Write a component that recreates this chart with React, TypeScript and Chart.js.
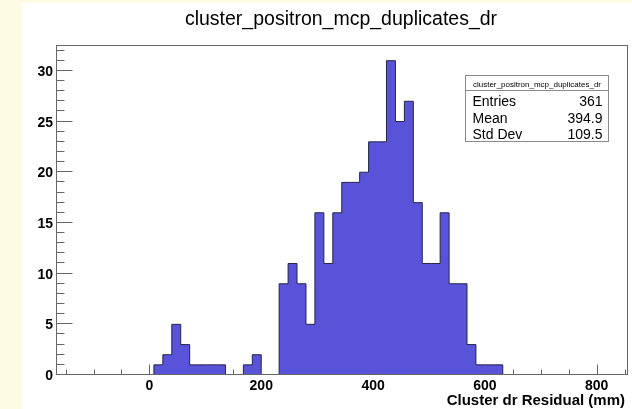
import React, { useEffect, useRef } from "react";
import { Chart, registerables } from "chart.js";

Chart.register(...registerables);

// ---------- data ----------
const TITLE = "cluster_positron_mcp_duplicates_dr";
const X_TITLE = "Cluster dr Residual (mm)";
const X_MIN = -168;
const X_MAX = 856;
const Y_MIN = 0;
const Y_MAX = 32.55;

// lower edges of the filled bins (bin width 16 mm), plus the upper edge of the last one
const binEdges = [
  8, 24, 40, 56, 72, 88, 104, 120, 136, 152, 168, 184, 200, 216, 232, 248, 264, 280, 296, 312,
  328, 344, 360, 376, 392, 408, 424, 440, 456, 472, 488, 504, 520, 536, 552, 568, 584, 600, 616, 632,
];
const binCounts = [
  1, 2, 5, 3, 1, 1, 1, 1, 0, 0, 1, 2, 0, 0, 9, 11, 9, 5, 16, 11,
  16, 19, 19, 20, 23, 23, 31, 25, 27, 17, 11, 11, 16, 9, 9, 3, 1, 1, 1,
];

const yMajorTicks = [0, 5, 10, 15, 20, 25, 30];
const xMajorTicks = [0, 200, 400, 600, 800];
const yMinorStep = 1;
const xMinorStep = 50;

const statLabels = ["Entries", "Mean", "Std Dev"];
const statValues = ["361", "394.9", "109.5"];

// ---------- styles ----------
const FONT = '"Liberation Sans", Arial, Helvetica, sans-serif';
const FILL = "#5853d9";
const LINE = "#25254a";
const AXIS = "#666666";
const PAGE_BG = "#fdfbe4";

const rootPlugin = {
  id: "rootStyle",
  beforeDraw(chart: any) {
    const ctx = chart.ctx;
    ctx.save();
    ctx.fillStyle = PAGE_BG;
    ctx.fillRect(0, 0, chart.width, chart.height);
    ctx.fillStyle = "#ffffff";
    ctx.fillRect(22, 3, chart.width - 22, chart.height - 3);
    ctx.restore();
  },
  afterDatasetsDraw(chart: any) {
    const ctx = chart.ctx;
    const area = chart.chartArea;
    const xs = chart.scales.x;
    const ys = chart.scales.y;
    ctx.save();

    // frame
    ctx.strokeStyle = AXIS;
    ctx.lineWidth = 1;
    const L = Math.round(area.left) + 0.5;
    const R = Math.round(area.right) - 0.5;
    const T = Math.round(area.top) + 0.5;
    const B = Math.round(area.bottom) - 0.5;
    ctx.strokeRect(L, T, R - L, B - T);

    // y ticks
    ctx.beginPath();
    for (let v = Y_MIN; v <= Y_MAX; v += yMinorStep) {
      const y = Math.round(ys.getPixelForValue(v)) - 0.5;
      const len = yMajorTicks.includes(v) ? 16 : 8;
      ctx.moveTo(L, y);
      ctx.lineTo(L + len, y);
    }
    // x ticks
    for (let v = Math.ceil(X_MIN / xMinorStep) * xMinorStep; v <= X_MAX; v += xMinorStep) {
      const x = Math.round(xs.getPixelForValue(v)) + 0.5;
      const len = xMajorTicks.includes(v) ? 10 : 5;
      ctx.moveTo(x, B);
      ctx.lineTo(x, B - len);
    }
    ctx.stroke();

    // tick labels
    ctx.fillStyle = "#000000";
    ctx.font = `bold 14px ${FONT}`;
    ctx.textAlign = "right";
    ctx.textBaseline = "alphabetic";
    yMajorTicks.forEach((v) => {
      ctx.fillText(String(v), 53, ys.getPixelForValue(v) + 5);
    });
    ctx.textAlign = "center";
    xMajorTicks.forEach((v) => {
      ctx.fillText(String(v), xs.getPixelForValue(v), 390);
    });

    // x title
    ctx.font = `bold 15px ${FONT}`;
    ctx.textAlign = "right";
    ctx.fillText(X_TITLE, 625, 405);

    // main title
    ctx.font = `19.5px ${FONT}`;
    ctx.textAlign = "center";
    ctx.fillText(TITLE, 341, 25);

    // stats box
    const bx = 465.5, by = 75.5, bw = 143, bh = 66;
    ctx.fillStyle = "#ffffff";
    ctx.fillRect(bx, by, bw, bh);
    ctx.strokeStyle = "#8a8a8a";
    ctx.strokeRect(bx, by, bw, bh);
    ctx.beginPath();
    ctx.moveTo(bx, by + 15);
    ctx.lineTo(bx + bw, by + 15);
    ctx.stroke();
    ctx.fillStyle = "#000000";
    ctx.font = `8px ${FONT}`;
    ctx.textAlign = "center";
    ctx.fillText(TITLE, bx + bw / 2, by + 11);
    ctx.font = `14px ${FONT}`;
    const rowBase = [106, 122.5, 139];
    statLabels.forEach((lab, i) => {
      ctx.textAlign = "left";
      ctx.fillText(lab, 472.5, rowBase[i]);
      ctx.textAlign = "right";
      ctx.fillText(statValues[i], 602.5, rowBase[i]);
    });

    ctx.restore();
  },
};

export default function App() {
  const ref = useRef<HTMLCanvasElement | null>(null);

  useEffect(() => {
    if (!ref.current) return;
    const points: { x: number; y: number }[] = [{ x: X_MIN, y: 0 }];
    binCounts.forEach((c, i) => points.push({ x: binEdges[i], y: c }));
    points.push({ x: binEdges[binEdges.length - 1], y: 0 });
    points.push({ x: X_MAX, y: 0 });

    const chart = new Chart(ref.current, {
      type: "line",
      data: {
        datasets: [
          {
            data: points,
            stepped: "before",
            fill: "origin",
            backgroundColor: FILL,
            borderColor: LINE,
            borderWidth: 1,
            pointRadius: 0,
            tension: 0,
          } as any,
        ],
      },
      options: {
        animation: false,
        responsive: false,
        maintainAspectRatio: false,
        layout: { padding: { left: 55.5, right: 4, top: 45, bottom: 34 } },
        scales: {
          x: { type: "linear", min: X_MIN, max: X_MAX, display: false },
          y: { type: "linear", min: Y_MIN, max: Y_MAX, display: false },
        },
        plugins: {
          legend: { display: false },
          tooltip: { enabled: false },
          title: { display: false },
        },
      },
      plugins: [rootPlugin],
    });
    return () => chart.destroy();
  }, []);

  return (
    <div style={{ position: "fixed", left: 0, top: 0, width: 632, height: 409 }}>
      <canvas ref={ref} width={632} height={409} style={{ width: 632, height: 409, display: "block" }} />
    </div>
  );
}
